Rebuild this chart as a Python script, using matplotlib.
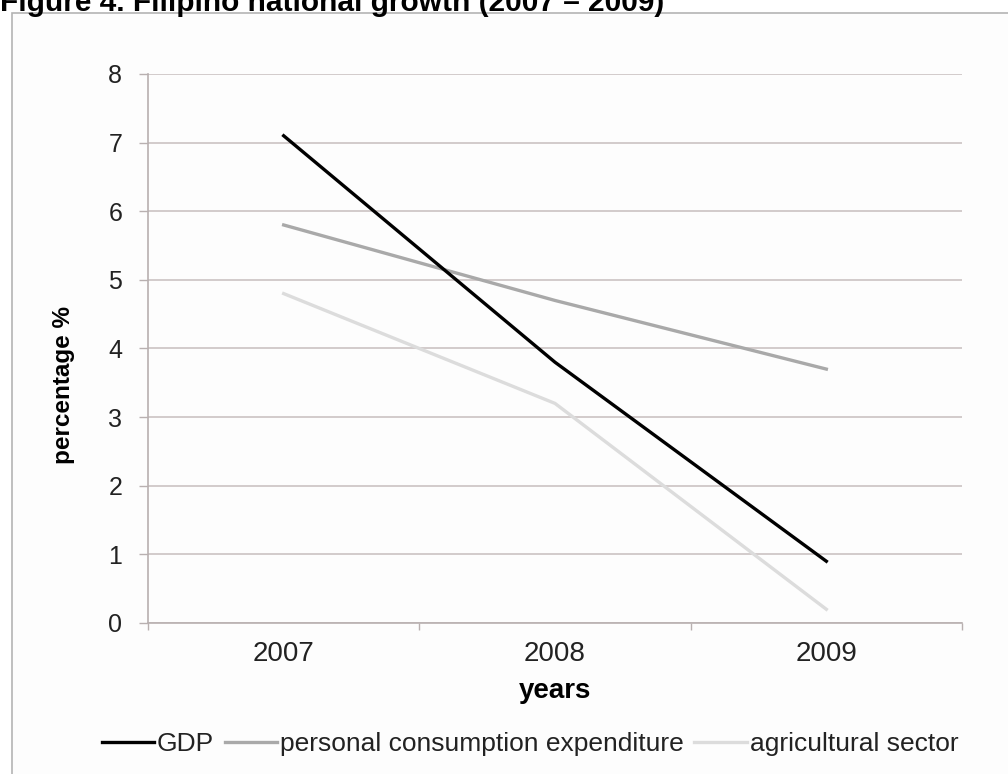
import matplotlib
matplotlib.use('Agg')
import matplotlib.pyplot as plt
from matplotlib.patches import Rectangle

# --- data ---
years = ['2007', '2008', '2009']
gdp = [7.1, 3.8, 0.9]
consumption = [5.8, 4.7, 3.7]
agriculture = [4.8, 3.2, 0.2]
y_ticks = [0, 1, 2, 3, 4, 5, 6, 7, 8]

plt.rcParams['font.family'] = ['Liberation Sans', 'DejaVu Sans']

W, H = 1008, 774
fig = plt.figure(figsize=(W / 100, H / 100), dpi=100)
fig.patch.set_facecolor('white')

# outer chart frame (left and top edges visible)
frame = Rectangle((12 / W, -0.05), 1.2, 1 - 13 / H + 0.05, transform=fig.transFigure,
                  facecolor='#fdfdfd', edgecolor='#b4b4b4', linewidth=1.2, zorder=-5)
fig.patches.append(frame)

fig.text(0.0, 1 - 11 / H, 'Figure 4. Filipino national growth (2007 \u2013 2009)',
         fontsize=21.5, fontweight='bold', ha='left', va='baseline')

ax = fig.add_axes([148 / W, 1 - 623 / H, (962 - 148) / W, (623 - 74) / H])
ax.set_facecolor('none')
ax.set_zorder(2)

x = range(len(years))
ax.plot(x, agriculture, color='#dcdcdc', lw=2.4, label='agricultural sector', zorder=3)
ax.plot(x, consumption, color='#a9a9a9', lw=2.4, label='personal consumption expenditure', zorder=4)
ax.plot(x, gdp, color='black', lw=2.4, label='GDP', zorder=5)

ax.set_xlim(-0.5, len(years) - 0.5)
ax.set_ylim(0, 8)
ax.set_yticks(y_ticks)
ax.set_yticklabels([str(v) for v in y_ticks], fontsize=18, color='#222222')
ax.set_xticks(list(x))
ax.set_xticklabels(years, fontsize=20, color='#222222')
ax.set_xticks([i - 0.5 for i in range(len(years) + 1)], minor=True)

ax.grid(axis='y', color='#cbc3c3', lw=1.2)
ax.set_axisbelow(True)
for s in ['top', 'right']:
    ax.spines[s].set_visible(False)
for s in ['left', 'bottom']:
    ax.spines[s].set_color('#b8b0b0')
    ax.spines[s].set_linewidth(1.2)

ax.tick_params(axis='y', length=6.5, width=1, color='#b8b0b0', pad=12)
ax.tick_params(axis='x', which='major', length=0, pad=13)
ax.tick_params(axis='x', which='minor', length=5, width=1, color='#b8b0b0')

ax.set_ylabel('percentage %', fontsize=17.5, fontweight='bold')
ax.yaxis.set_label_coords(-(148 - 75) / (962 - 148), (623 - 385) / (623 - 74))
ax.set_xlabel('years', fontsize=20, fontweight='bold', labelpad=8)

handles, labels = ax.get_legend_handles_labels()
order = [2, 1, 0]
fig.legend([handles[i] for i in order], [labels[i] for i in order],
           loc='center', bbox_to_anchor=(530 / W, 1 - 744 / H), ncol=3,
           frameon=False, fontsize=19, handlelength=2.0, handletextpad=0.1,
           columnspacing=0.4, labelcolor='#222222')

fig.savefig('out.png', dpi=100, facecolor='white')
